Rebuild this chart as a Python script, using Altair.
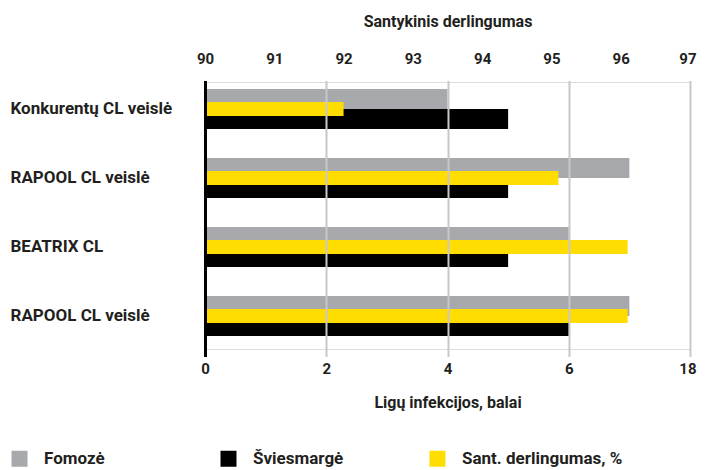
import json
import altair as alt
import pandas as pd

categories = ["Konkurentų CL veislė", "RAPOOL CL veislė", "BEATRIX CL", "RAPOOL CL veislė"]
fomoze = [4, 7, 6, 7]
sviesmarge = [5, 5, 5, 6]
derlingumas = [92.0, 95.1, 96.1, 96.1]
series = ["Fomozė", "Šviesmargė", "Sant. derlingumas, %"]
colors = ["#a7a9ac", "#000000", "#ffdd00"]
bottom_ticks = [0, 2, 4, 6, 8]
top_ticks = [90, 91, 92, 93, 94, 95, 96, 97]

rows = []
for i, c in enumerate(categories):
    rows.append(dict(idx=i, cat=c, series=series[0], value=fomoze[i]))
    rows.append(dict(idx=i, cat=c, series=series[1], value=sviesmarge[i]))
    rows.append(dict(idx=i, cat=c, series=series[2], value=derlingumas[i]))
df = pd.DataFrame(rows)

FONT = "Roboto"
TEXT = "#231f20"

color = alt.Color(
    "series:N",
    scale=alt.Scale(domain=series, range=colors),
    legend=alt.Legend(
        orient="none", legendX=-194, legendY=368, direction="horizontal",
        title=None, symbolType="square", symbolSize=256, symbolStrokeWidth=0,
        symbolOpacity=1, labelFontSize=17, labelFont=FONT, labelFontWeight="bold",
        labelColor=TEXT, labelOffset=16, columnPadding=15, gridAlign="all",
        padding=0, labelLimit=300,
    ),
)

label_expr = "%s[datum.value]" % json.dumps(categories, ensure_ascii=False)
y = alt.Y(
    "idx:O",
    scale=alt.Scale(range=[-7.5, 268.5], paddingInner=0, paddingOuter=0),
    axis=alt.Axis(
        title=None, labelExpr=label_expr, labelAlign="left", labelPadding=195,
        ticks=False, tickSize=0, domain=False, labelFontSize=17,
        labelFontWeight="bold", labelColor=TEXT, labelFont=FONT, labelLimit=250,
    ),
)

x_bottom = alt.X(
    "value:Q",
    scale=alt.Scale(domain=[0, 8], nice=False),
    axis=alt.Axis(
        orient="bottom", values=bottom_ticks,
        labelExpr="datum.value == 8 ? '18' : datum.label",
        title="Ligų infekcijos, balai", grid=True,
        gridColor=alt.condition("datum.value === 0", alt.value("#000000"), alt.value("#c8c8c8")),
        gridWidth=alt.condition("datum.value === 0", alt.value(3), alt.value(2)),
        domain=False, ticks=False, tickSize=0, labelPadding=12, labelFlush=False,
        labelAlign=alt.condition("datum.value === 8", alt.value("right"), alt.value("center")),
        labelOffset=alt.condition("datum.value === 8", alt.value(6), alt.value(0)),
        labelFontSize=15, labelFontWeight="bold", labelColor=TEXT, labelFont=FONT,
        titleFontSize=16, titleFontWeight="bold", titleColor=TEXT, titleFont=FONT,
        titlePadding=18, zindex=1,
    ),
)

x_top = alt.X(
    "value:Q",
    scale=alt.Scale(domain=[90, 97], nice=False, zero=False),
    axis=alt.Axis(
        orient="top", values=top_ticks, title="Santykinis derlingumas",
        grid=False, domain=False, ticks=False, tickSize=0, labelPadding=16,
        labelFlush=False,
        labelAlign=alt.condition("datum.value === 97", alt.value("right"), alt.value("center")),
        labelOffset=alt.condition("datum.value === 97", alt.value(6), alt.value(0)),
        labelFontSize=15, labelFontWeight="bold", labelColor=TEXT, labelFont=FONT,
        titleFontSize=16, titleFontWeight="bold", titleColor=TEXT, titleFont=FONT,
        titlePadding=22,
    ),
)

gray = alt.Chart().mark_bar(height=20, yOffset=-10).encode(
    x=x_bottom, y=y, color=color
).transform_filter(alt.datum.series == series[0])

black = alt.Chart().mark_bar(height=20, yOffset=10).encode(
    x=x_bottom, y=y, color=color
).transform_filter(alt.datum.series == series[1])

yellow = alt.Chart().mark_bar(height=14).encode(
    x=x_top, x2=alt.datum(90), y=y, color=color
).transform_filter(alt.datum.series == series[2])

inner = alt.layer(gray, black)
chart = alt.layer(inner, yellow, data=df).resolve_scale(x="independent").properties(
    width=485, height=267,
    autosize=alt.AutoSizeParams(type="none"),
    padding={"left": 197, "top": 74, "right": 7, "bottom": 121},
).configure_view(stroke=None).configure(background="white")

chart.save("out.html", embed_options={"renderer": "svg", "actions": False})
